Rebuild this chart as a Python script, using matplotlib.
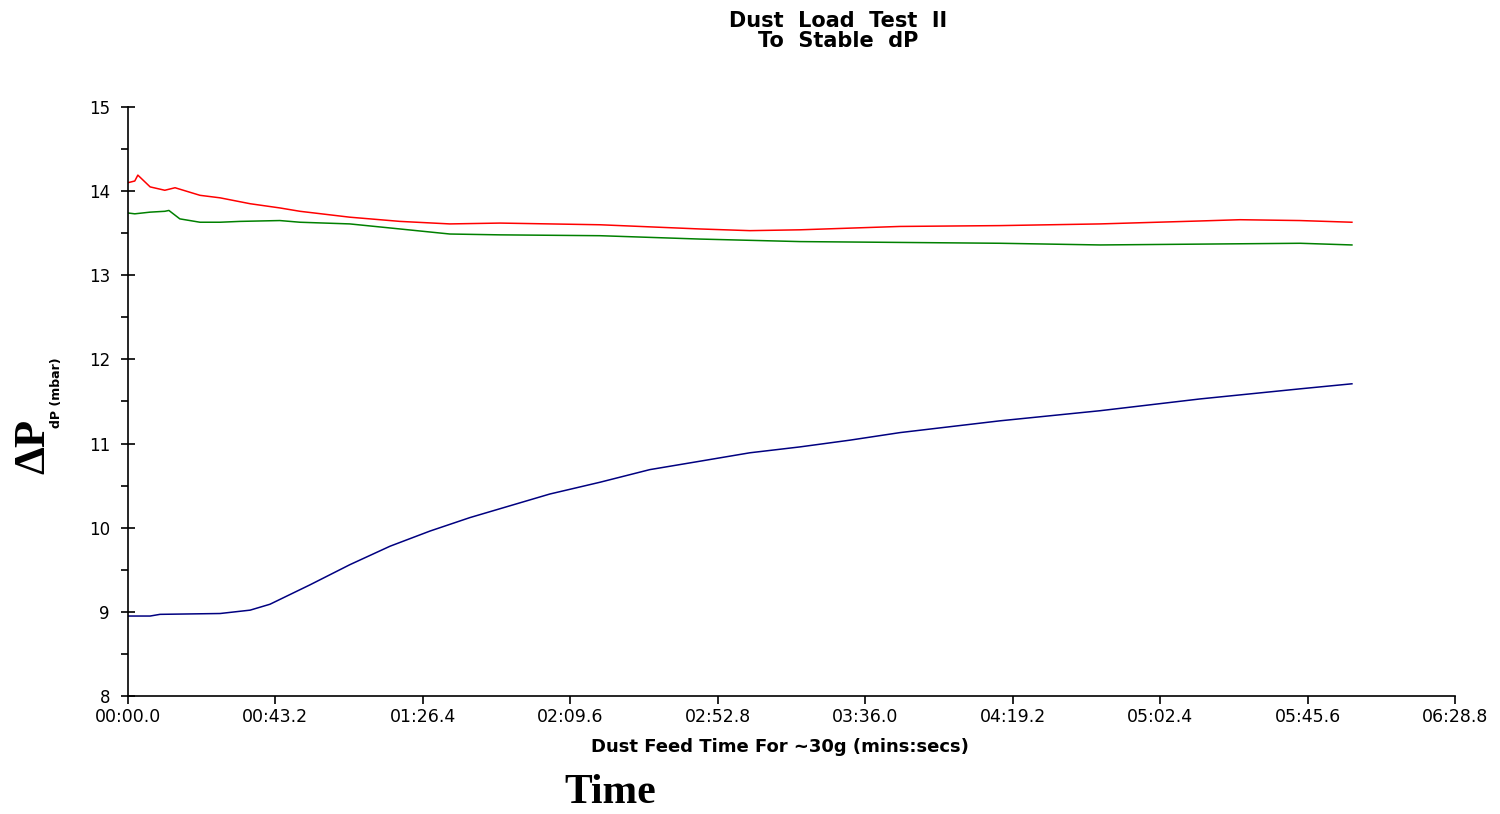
import matplotlib
matplotlib.use("Agg")
import matplotlib.pyplot as plt
from matplotlib.ticker import MultipleLocator, FuncFormatter

plt.rcParams["font.family"] = ["DejaVu Sans"]

# Data (time in seconds, dP in mbar)
red_t = [0, 2.0, 2.9, 6.5, 10.8, 13.8, 21.1, 27.0, 35.8, 44.5, 50.4, 65.0, 79.7, 94.3, 109.0,
         138.3, 167.6, 182.2, 196.9, 226.2, 255.5, 284.8, 314.1, 325.8, 343.4, 358.6]
red_v = [14.10, 14.12, 14.19, 14.05, 14.01, 14.04, 13.95, 13.92, 13.85, 13.80, 13.76, 13.69,
         13.64, 13.61, 13.62, 13.60, 13.55, 13.53, 13.54, 13.58, 13.59, 13.61, 13.645, 13.66, 13.65, 13.63]

green_t = [0, 2.0, 6.5, 10.8, 12.0, 15.2, 21.1, 27.0, 32.8, 44.5, 50.4, 65.0, 79.7, 94.3, 109.0,
           138.3, 167.6, 196.9, 226.2, 255.5, 284.8, 314.1, 343.4, 358.6]
green_v = [13.74, 13.73, 13.75, 13.76, 13.77, 13.67, 13.63, 13.63, 13.64, 13.65, 13.63, 13.61,
           13.55, 13.49, 13.48, 13.47, 13.43, 13.40, 13.39, 13.38, 13.36, 13.37, 13.38, 13.36]

blue_t = [0, 6.5, 9.4, 27.0, 35.8, 41.6, 53.3, 65.0, 76.8, 88.5, 100.2, 123.6, 138.3, 152.9,
          167.6, 182.2, 196.9, 211.5, 226.2, 255.5, 284.8, 314.1, 343.4, 358.6]
blue_v = [8.95, 8.95, 8.97, 8.98, 9.02, 9.09, 9.32, 9.56, 9.78, 9.96, 10.12, 10.40, 10.54, 10.69,
          10.79, 10.89, 10.96, 11.04, 11.13, 11.27, 11.39, 11.53, 11.65, 11.71]

x_ticks = [0, 43.2, 86.4, 129.6, 172.8, 216.0, 259.2, 302.4, 345.6, 388.8]


def fmt_time(v, pos=None):
    m = int(v // 60)
    s = v - 60 * m
    return f"{m:02d}:{s:04.1f}"


fig = plt.figure(figsize=(15, 8.14), dpi=100)
ax = fig.add_axes([0.0853, 0.145, 0.8847, 0.7236])

ax.plot(red_t, red_v, color="#ff0000", lw=1.1)
ax.plot(green_t, green_v, color="#008000", lw=1.1)
ax.plot(blue_t, blue_v, color="#000080", lw=1.1)

ax.set_xlim(0, 388.8)
ax.set_ylim(8, 15)
ax.set_xticks(x_ticks)
ax.xaxis.set_major_formatter(FuncFormatter(fmt_time))
ax.yaxis.set_major_locator(MultipleLocator(1))
ax.yaxis.set_minor_locator(MultipleLocator(0.5))

for sp in ["top", "right"]:
    ax.spines[sp].set_visible(False)
ax.spines["left"].set_linewidth(1.2)
ax.spines["bottom"].set_linewidth(1.2)

ax.tick_params(axis="y", which="major", direction="inout", length=10, width=1.2, labelsize=12, pad=8)
ax.tick_params(axis="y", which="minor", direction="out", length=5, width=1.2)
ax.tick_params(axis="x", which="major", direction="out", length=6, width=1.2, labelsize=12.5, pad=3)

fig.text(0.52, 0.0823, "Dust Feed Time For ~30g (mins:secs)", ha="center", va="center",
         fontsize=13, fontweight="bold")

fig.text(0.5587, 0.986, "Dust  Load  Test  II\nTo  Stable  dP", ha="center", va="top",
         fontsize=15, fontweight="bold", linespacing=1.0)

fig.text(0.407, 0.014, "Time", ha="center", va="baseline", fontsize=30, fontweight="bold",
         family="Liberation Serif")
fig.text(0.022, 0.452, "ΔP", ha="center", va="center", fontsize=32, fontweight="bold",
         family="Liberation Serif", rotation=90)
fig.text(0.0375, 0.518, "dP (mbar)", ha="center", va="center", fontsize=9, fontweight="bold",
         rotation=90)

fig.savefig("out.png", dpi=100)
